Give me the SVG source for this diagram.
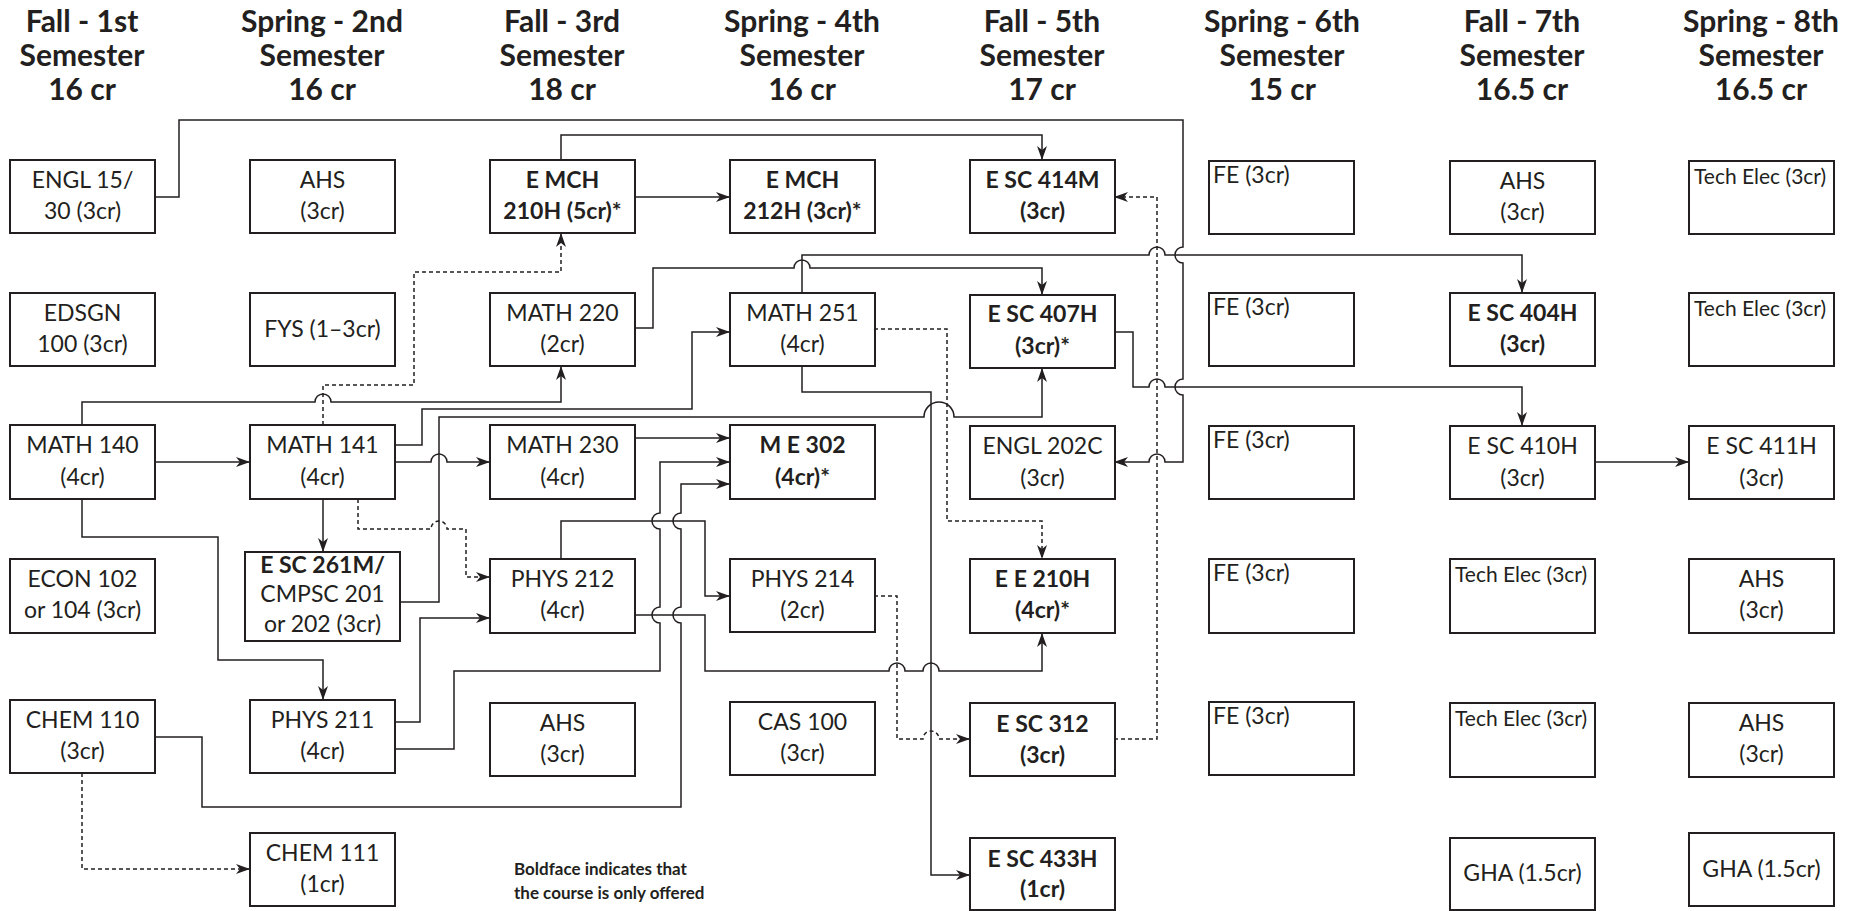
<svg xmlns="http://www.w3.org/2000/svg" width="1858" height="911" viewBox="0 0 1858 911">
<style>
.bx{fill:#fff;stroke:#231f20;stroke-width:2}
.t{font-family:Lato,"Open Sans","Liberation Sans",sans-serif;font-size:23px;fill:#231f20;text-anchor:middle}
.b{font-weight:bold}
.l{text-anchor:start}
.s{font-size:21px}
.h{font-family:Lato,"Open Sans","Liberation Sans",sans-serif;font-size:30px;font-weight:bold;fill:#231f20;text-anchor:middle}
.lg{font-family:Lato,"Open Sans","Liberation Sans",sans-serif;font-size:17px;font-weight:bold;fill:#231f20}
.c{fill:none;stroke:#231f20;stroke-width:1.5}
.d{stroke-dasharray:4 3}
.a{marker-end:url(#arr)}
</style>
<defs>
<marker id="arr" viewBox="0 0 14 10" refX="14" refY="5" markerWidth="14" markerHeight="10" orient="auto" markerUnits="userSpaceOnUse"><path d="M0,0 L14,5 L0,10 L4,5 z" fill="#231f20"/></marker>
</defs>
<rect width="1858" height="911" fill="#fff"/>
<g id="headers">
<text class="h" x="82" y="32">Fall - 1st</text><text class="h" x="82" y="66">Semester</text><text class="h" x="82" y="100">16 cr</text>
<text class="h" x="322" y="32">Spring - 2nd</text><text class="h" x="322" y="66">Semester</text><text class="h" x="322" y="100">16 cr</text>
<text class="h" x="562" y="32">Fall - 3rd</text><text class="h" x="562" y="66">Semester</text><text class="h" x="562" y="100">18 cr</text>
<text class="h" x="802" y="32">Spring - 4th</text><text class="h" x="802" y="66">Semester</text><text class="h" x="802" y="100">16 cr</text>
<text class="h" x="1042" y="32">Fall - 5th</text><text class="h" x="1042" y="66">Semester</text><text class="h" x="1042" y="100">17 cr</text>
<text class="h" x="1282" y="32">Spring - 6th</text><text class="h" x="1282" y="66">Semester</text><text class="h" x="1282" y="100">15 cr</text>
<text class="h" x="1522" y="32">Fall - 7th</text><text class="h" x="1522" y="66">Semester</text><text class="h" x="1522" y="100">16.5 cr</text>
<text class="h" x="1761" y="32">Spring - 8th</text><text class="h" x="1761" y="66">Semester</text><text class="h" x="1761" y="100">16.5 cr</text>
</g>
<g id="connectors">
<path class="c a" d="M155,197 H179 V120 H1183 V247 A8,8 0 0 0 1183,263 V379 A8,8 0 0 0 1183,395 V462 H1165 A8,8 0 0 0 1149,462 H1114"/>
<path class="c a" d="M635,197 H730"/>
<path class="c a" d="M561,160 V135 H1042 V160"/>
<path class="c d a" d="M1114,739 H1157 V197 H1114"/>
<path class="c a" d="M802,293 V255 H1149 A8,8 0 0 1 1165,255 H1522 V293"/>
<path class="c a" d="M635,328 H653 V268 H794 A8,8 0 0 1 810,268 H1042 V295"/>
<path class="c a" d="M155,462 H250"/>
<path class="c a" d="M82,425 V402 H315 A8,8 0 0 1 331,402 H561 V366"/>
<path class="c d a" d="M323,425 V385 H414 V272 H561 V233"/>
<path class="c a" d="M323,499 V552"/>
<path class="c a" d="M395,462 H431 A8,8 0 0 1 447,462 H490"/>
<path class="c a" d="M395,445 H422 V409 H692 V332 H730"/>
<path class="c a" d="M400,602 H439 V417 H924 A15,15 0 0 1 954,417 H1042 V368"/>
<path class="c a" d="M802,366 V392 H931 V875 H970"/>
<path class="c d a" d="M874,329 H947 V521 H1042 V559"/>
<path class="c a" d="M635,438 H730"/>
<path class="c a" d="M395,722 H420 V618 H490"/>
<path class="c a" d="M395,749 H454 V671 H660 V623 A8,8 0 0 1 660,607 V529 A8,8 0 0 1 660,513 V462 H730"/>
<path class="c a" d="M155,737 H202 V807 H681 V623 A8,8 0 0 1 681,607 V529 A8,8 0 0 1 681,513 V484 H730"/>
<path class="c a" d="M561,559 V521 H705 V596 H730"/>
<path class="c a" d="M635,615 H705 V671 H889 A8,8 0 0 1 905,671 H923 A8,8 0 0 1 939,671 H1042 V633"/>
<path class="c d a" d="M874,596 H897 V739 H923 A8,8 0 0 1 939,739 H970"/>
<path class="c d a" d="M358,499 V529 H431 A8,8 0 0 1 447,529 H466 V577 H490"/>
<path class="c a" d="M82,499 V537 H218 V660 H323 V700"/>
<path class="c d a" d="M82,773 V869 H250"/>
<path class="c a" d="M1114,332 H1133 V387 H1149 A8,8 0 0 1 1165,387 H1522 V426"/>
<path class="c a" d="M1594,462 H1689"/>
</g>
<g id="n_engl15"><rect class="bx" x="10" y="160" width="145" height="73"/><text class="t" x="82.5" y="188">ENGL 15/</text><text class="t" x="82.5" y="219">30 (3cr)</text></g>
<g id="n_edsgn100"><rect class="bx" x="10" y="293" width="145" height="73"/><text class="t" x="82.5" y="321">EDSGN</text><text class="t" x="82.5" y="352">100 (3cr)</text></g>
<g id="n_math140"><rect class="bx" x="10" y="425" width="145" height="74"/><text class="t" x="82.5" y="453">MATH 140</text><text class="t" x="82.5" y="485">(4cr)</text></g>
<g id="n_econ"><rect class="bx" x="10" y="559" width="145" height="74"/><text class="t" x="82.5" y="587">ECON 102</text><text class="t" x="82.5" y="618">or 104 (3cr)</text></g>
<g id="n_chem110"><rect class="bx" x="10" y="700" width="145" height="73"/><text class="t" x="82.5" y="728">CHEM 110</text><text class="t" x="82.5" y="759">(3cr)</text></g>
<g id="n_ahs2"><rect class="bx" x="250" y="160" width="145" height="73"/><text class="t" x="322.5" y="188">AHS</text><text class="t" x="322.5" y="219">(3cr)</text></g>
<g id="n_fys"><rect class="bx" x="250" y="293" width="145" height="73"/><text class="t" x="322.5" y="337">FYS (1–3cr)</text></g>
<g id="n_math141"><rect class="bx" x="250" y="425" width="145" height="74"/><text class="t" x="322.5" y="453">MATH 141</text><text class="t" x="322.5" y="485">(4cr)</text></g>
<g id="n_esc261m"><rect class="bx" x="245" y="552" width="155" height="89"/><text class="t b" x="322.5" y="573">E SC 261M/</text><text class="t" x="322.5" y="602">CMPSC 201</text><text class="t" x="322.5" y="632">or 202 (3cr)</text></g>
<g id="n_phys211"><rect class="bx" x="250" y="700" width="145" height="73"/><text class="t" x="322.5" y="728">PHYS 211</text><text class="t" x="322.5" y="759">(4cr)</text></g>
<g id="n_chem111"><rect class="bx" x="250" y="833" width="145" height="73"/><text class="t" x="322.5" y="861">CHEM 111</text><text class="t" x="322.5" y="892">(1cr)</text></g>
<g id="n_emch210h"><rect class="bx" x="490" y="160" width="145" height="73"/><text class="t b" x="562.5" y="188">E MCH</text><text class="t b" x="562.5" y="219">210H (5cr)*</text></g>
<g id="n_math220"><rect class="bx" x="490" y="293" width="145" height="73"/><text class="t" x="562.5" y="321">MATH 220</text><text class="t" x="562.5" y="352">(2cr)</text></g>
<g id="n_math230"><rect class="bx" x="490" y="425" width="145" height="74"/><text class="t" x="562.5" y="453">MATH 230</text><text class="t" x="562.5" y="485">(4cr)</text></g>
<g id="n_phys212"><rect class="bx" x="490" y="559" width="145" height="74"/><text class="t" x="562.5" y="587">PHYS 212</text><text class="t" x="562.5" y="618">(4cr)</text></g>
<g id="n_ahs3"><rect class="bx" x="490" y="703" width="145" height="73"/><text class="t" x="562.5" y="731">AHS</text><text class="t" x="562.5" y="762">(3cr)</text></g>
<g id="n_emch212h"><rect class="bx" x="730" y="160" width="145" height="73"/><text class="t b" x="802.5" y="188">E MCH</text><text class="t b" x="802.5" y="219">212H (3cr)*</text></g>
<g id="n_math251"><rect class="bx" x="730" y="293" width="145" height="73"/><text class="t" x="802.5" y="321">MATH 251</text><text class="t" x="802.5" y="352">(4cr)</text></g>
<g id="n_me302"><rect class="bx" x="730" y="425" width="145" height="74"/><text class="t b" x="802.5" y="453">M E 302</text><text class="t b" x="802.5" y="485">(4cr)*</text></g>
<g id="n_phys214"><rect class="bx" x="730" y="559" width="145" height="73"/><text class="t" x="802.5" y="587">PHYS 214</text><text class="t" x="802.5" y="618">(2cr)</text></g>
<g id="n_cas100"><rect class="bx" x="730" y="702" width="145" height="73"/><text class="t" x="802.5" y="730">CAS 100</text><text class="t" x="802.5" y="761">(3cr)</text></g>
<g id="n_esc414m"><rect class="bx" x="970" y="160" width="145" height="73"/><text class="t b" x="1042.5" y="188">E SC 414M</text><text class="t b" x="1042.5" y="219">(3cr)</text></g>
<g id="n_esc407h"><rect class="bx" x="970" y="295" width="145" height="73"/><text class="t b" x="1042.5" y="322">E SC 407H</text><text class="t b" x="1042.5" y="354">(3cr)*</text></g>
<g id="n_engl202c"><rect class="bx" x="970" y="426" width="145" height="73"/><text class="t" x="1042.5" y="454">ENGL 202C</text><text class="t" x="1042.5" y="486">(3cr)</text></g>
<g id="n_ee210h"><rect class="bx" x="970" y="559" width="145" height="74"/><text class="t b" x="1042.5" y="587">E E 210H</text><text class="t b" x="1042.5" y="618">(4cr)*</text></g>
<g id="n_esc312"><rect class="bx" x="970" y="703" width="145" height="73"/><text class="t b" x="1042.5" y="732">E SC 312</text><text class="t b" x="1042.5" y="763">(3cr)</text></g>
<g id="n_esc433h"><rect class="bx" x="970" y="838" width="145" height="72"/><text class="t b" x="1042.5" y="867">E SC 433H</text><text class="t b" x="1042.5" y="897">(1cr)</text></g>
<g id="n_fe1"><rect class="bx" x="1209" y="161" width="145" height="73"/><text class="t l" x="1213" y="183">FE (3cr)</text></g>
<g id="n_fe2"><rect class="bx" x="1209" y="293" width="145" height="73"/><text class="t l" x="1213" y="315">FE (3cr)</text></g>
<g id="n_fe3"><rect class="bx" x="1209" y="426" width="145" height="73"/><text class="t l" x="1213" y="448">FE (3cr)</text></g>
<g id="n_fe4"><rect class="bx" x="1209" y="559" width="145" height="74"/><text class="t l" x="1213" y="581">FE (3cr)</text></g>
<g id="n_fe5"><rect class="bx" x="1209" y="702" width="145" height="73"/><text class="t l" x="1213" y="724">FE (3cr)</text></g>
<g id="n_ahs7"><rect class="bx" x="1450" y="161" width="145" height="73"/><text class="t" x="1522.5" y="189">AHS</text><text class="t" x="1522.5" y="220">(3cr)</text></g>
<g id="n_esc404h"><rect class="bx" x="1450" y="293" width="145" height="73"/><text class="t b" x="1522.5" y="321">E SC 404H</text><text class="t b" x="1522.5" y="352">(3cr)</text></g>
<g id="n_esc410h"><rect class="bx" x="1450" y="426" width="145" height="73"/><text class="t" x="1522.5" y="454">E SC 410H</text><text class="t" x="1522.5" y="486">(3cr)</text></g>
<g id="n_te7a"><rect class="bx" x="1450" y="559" width="145" height="74"/><text class="t l s" x="1455" y="582">Tech Elec (3cr)</text></g>
<g id="n_te7b"><rect class="bx" x="1450" y="703" width="145" height="74"/><text class="t l s" x="1455" y="726">Tech Elec (3cr)</text></g>
<g id="n_gha7"><rect class="bx" x="1450" y="838" width="145" height="72"/><text class="t" x="1522.5" y="881">GHA (1.5cr)</text></g>
<g id="n_te8a"><rect class="bx" x="1689" y="161" width="145" height="73"/><text class="t l s" x="1694" y="184">Tech Elec (3cr)</text></g>
<g id="n_te8b"><rect class="bx" x="1689" y="293" width="145" height="73"/><text class="t l s" x="1694" y="316">Tech Elec (3cr)</text></g>
<g id="n_esc411h"><rect class="bx" x="1689" y="426" width="145" height="73"/><text class="t" x="1761.5" y="454">E SC 411H</text><text class="t" x="1761.5" y="486">(3cr)</text></g>
<g id="n_ahs8a"><rect class="bx" x="1689" y="559" width="145" height="74"/><text class="t" x="1761.5" y="587">AHS</text><text class="t" x="1761.5" y="618">(3cr)</text></g>
<g id="n_ahs8b"><rect class="bx" x="1689" y="703" width="145" height="74"/><text class="t" x="1761.5" y="731">AHS</text><text class="t" x="1761.5" y="762">(3cr)</text></g>
<g id="n_gha8"><rect class="bx" x="1689" y="833" width="145" height="73"/><text class="t" x="1761.5" y="877">GHA (1.5cr)</text></g>
<g id="legend"><text class="lg" x="514" y="875">Boldface indicates that</text><text class="lg" x="514" y="899">the course is only offered</text></g>
</svg>
